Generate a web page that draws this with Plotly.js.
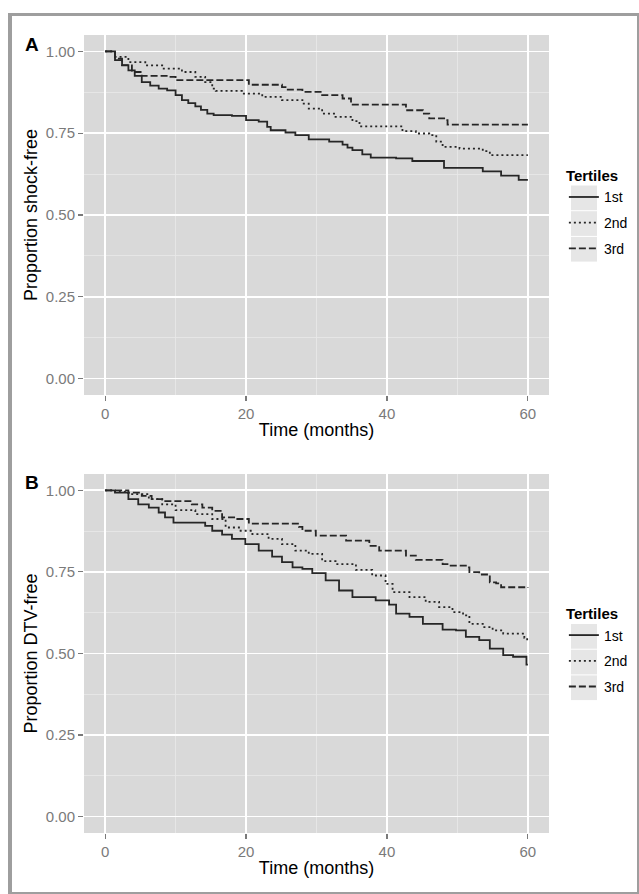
<!DOCTYPE html>
<html>
<head>
<meta charset="utf-8">
<script src="https://cdn.plot.ly/plotly-3.0.1.min.js"></script>
<style>
  html, body { margin: 0; padding: 0; background: #fff; }
  #wrap { position: relative; width: 639px; height: 894px; }
  #chart { position: absolute; left: 0; top: 0; width: 639px; height: 894px; }
  #frame { position: absolute; left: 8px; top: 13px; right: 0; bottom: 0;
           border-left: 4px solid #9e9e9e; border-top: 3px solid #9e9e9e;
           border-right: 2px solid #9e9e9e; border-bottom: 2px solid #9e9e9e;
           pointer-events: none; }
</style>
</head>
<body>
<div id="wrap">
  <div id="chart"></div>
  <div id="frame"></div>
</div>
<script>
// ---------- Data ----------
const tertileNames = ["1st", "2nd", "3rd"];
const panelLabels = ["A", "B"];
const yTitles = ["Proportion shock-free", "Proportion DTV-free"];
const xTitle = "Time (months)";
const legendTitle = "Tertiles";

// Panel A: shock-free survival
const timeA1 = [0, 1.4, 2.4, 3.3, 4.2, 5.2, 6.4, 7.6, 8.8, 10.0, 10.9, 11.8, 12.8, 13.6, 14.5, 15.4, 18.0, 20.0, 21.8, 23.0, 23.5, 25.6, 27.0, 28.9, 31.8, 33.7, 34.4, 35.1, 36.5, 37.7, 41.3, 43.6, 48.1, 53.6, 56.2, 58.7, 60];
const survA1 = [1, 0.973, 0.958, 0.942, 0.925, 0.906, 0.895, 0.886, 0.881, 0.866, 0.851, 0.842, 0.832, 0.821, 0.81, 0.805, 0.803, 0.79, 0.785, 0.769, 0.759, 0.752, 0.744, 0.731, 0.724, 0.715, 0.706, 0.698, 0.685, 0.675, 0.673, 0.665, 0.644, 0.633, 0.62, 0.607, 0.607];

const timeA2 = [0, 1.4, 3.3, 5.7, 8.1, 10.9, 12.8, 14.2, 15.2, 15.7, 19.4, 22.3, 25.1, 28.0, 28.9, 30.8, 32.7, 35.1, 36.1, 42.2, 44.1, 46.0, 47.0, 47.9, 50.3, 53.6, 54.6, 60];
const survA2 = [1, 0.983, 0.967, 0.957, 0.947, 0.937, 0.922, 0.906, 0.886, 0.879, 0.871, 0.861, 0.851, 0.84, 0.825, 0.81, 0.8, 0.787, 0.771, 0.756, 0.749, 0.744, 0.724, 0.708, 0.703, 0.695, 0.683, 0.683];

const timeA3 = [0, 1.4, 2.4, 3.8, 5.2, 9.0, 10.0, 20.4, 25.1, 25.6, 28.0, 30.8, 33.7, 34.9, 42.7, 45.1, 46.0, 48.4, 48.6, 60];
const survA3 = [1, 0.978, 0.957, 0.937, 0.925, 0.922, 0.912, 0.898, 0.891, 0.883, 0.876, 0.866, 0.856, 0.837, 0.82, 0.81, 0.795, 0.79, 0.776, 0.776];

// Panel B: DTV-free survival
const timeB1 = [0, 1.4, 3.3, 4.7, 6.2, 7.6, 8.5, 9.7, 12.8, 14.2, 15.2, 16.6, 18.0, 19.9, 21.8, 23.7, 25.1, 26.6, 28.0, 29.4, 31.3, 33.2, 35.1, 38.4, 40.3, 41.3, 43.2, 45.1, 47.9, 49.8, 51.2, 53.1, 54.6, 56.5, 57.9, 59.3, 59.8, 60];
const survB1 = [1, 0.993, 0.973, 0.957, 0.947, 0.932, 0.917, 0.901, 0.901, 0.891, 0.876, 0.864, 0.851, 0.835, 0.815, 0.797, 0.78, 0.764, 0.759, 0.746, 0.724, 0.693, 0.673, 0.663, 0.65, 0.622, 0.612, 0.591, 0.573, 0.571, 0.551, 0.541, 0.515, 0.495, 0.49, 0.49, 0.466, 0.466];

const timeB2 = [0, 1.4, 3.3, 6.2, 8.1, 10.0, 12.8, 15.2, 17.1, 19.0, 20.9, 23.2, 25.1, 27.0, 28.9, 30.8, 32.7, 35.6, 37.9, 39.8, 40.8, 43.2, 45.5, 47.4, 49.3, 50.8, 51.7, 53.6, 55.0, 56.5, 59.5, 59.9, 60];
const survB2 = [1, 0.996, 0.988, 0.973, 0.957, 0.939, 0.927, 0.912, 0.886, 0.876, 0.866, 0.851, 0.835, 0.815, 0.805, 0.783, 0.774, 0.756, 0.739, 0.713, 0.688, 0.673, 0.658, 0.642, 0.627, 0.617, 0.591, 0.581, 0.571, 0.561, 0.548, 0.537, 0.537];

const timeB3 = [0, 3.3, 5.2, 6.6, 8.1, 12.3, 13.8, 15.2, 16.6, 18.5, 20.4, 27.5, 28.0, 29.9, 34.2, 37.5, 38.9, 42.7, 44.1, 47.9, 48.9, 51.2, 51.7, 53.1, 54.6, 55.5, 56.2, 60];
const survB3 = [1, 0.993, 0.983, 0.973, 0.967, 0.957, 0.947, 0.937, 0.917, 0.912, 0.898, 0.888, 0.876, 0.861, 0.846, 0.83, 0.815, 0.8, 0.787, 0.774, 0.769, 0.764, 0.749, 0.742, 0.718, 0.715, 0.703, 0.701];

const yTickVals = [0, 0.25, 0.5, 0.75, 1];
const xTickVals = [0, 20, 40, 60];

// ---------- Styles ----------
const FONT = '"Liberation Sans", Arial, Helvetica, sans-serif';
const lineColor = '#262626';
const dashes = ['solid', '2px,3px', '7px,3px'];
const tickGray = '#7a7a7a';

const seriesA = [[timeA1, survA1], [timeA2, survA2], [timeA3, survA3]];
const seriesB = [[timeB1, survB1], [timeB2, survB2], [timeB3, survB3]];

const traces = [];
seriesA.forEach((s, i) => traces.push({
  x: s[0], y: s[1], type: 'scatter', mode: 'lines', name: tertileNames[i],
  line: { shape: 'hv', color: lineColor, width: 1.8, dash: dashes[i] },
  xaxis: 'x', yaxis: 'y', legend: 'legend', legendgroup: 'a' + i
}));
seriesB.forEach((s, i) => traces.push({
  x: s[0], y: s[1], type: 'scatter', mode: 'lines', name: tertileNames[i],
  line: { shape: 'hv', color: lineColor, width: 1.8, dash: dashes[i] },
  xaxis: 'x2', yaxis: 'y2', legend: 'legend2', legendgroup: 'b' + i
}));

function xAxis(anchor) {
  return {
    anchor: anchor, domain: [0, 1], range: [-3, 63],
    tickvals: xTickVals, ticks: 'outside', ticklen: 5, tickwidth: 1.2, tickcolor: tickGray,
    tickfont: { family: FONT, size: 15, color: tickGray },
    showgrid: true, gridcolor: '#ffffff', gridwidth: 1.6,
    minor: { tickvals: [10, 30, 50], showgrid: true, gridcolor: '#e9e9e9', gridwidth: 0.8, ticks: '' },
    zeroline: false, showline: false, fixedrange: true, automargin: false,
    title: { text: xTitle, font: { family: FONT, size: 18, color: '#000' }, standoff: 2 }
  };
}
function yAxis(anchor, domain, title) {
  return {
    anchor: anchor, domain: domain, range: [-0.05, 1.05],
    tickvals: yTickVals, tickformat: '.2f', ticks: 'outside', ticklen: 5, tickwidth: 1.2, tickcolor: tickGray,
    tickfont: { family: FONT, size: 15, color: tickGray },
    showgrid: true, gridcolor: '#ffffff', gridwidth: 1.6,
    minor: { tickvals: [0.125, 0.375, 0.625, 0.875], showgrid: true, gridcolor: '#e9e9e9', gridwidth: 0.8, ticks: '' },
    zeroline: false, showline: false, fixedrange: true, automargin: false,
    title: { text: title, font: { family: FONT, size: 18, color: '#000' }, standoff: 3 }
  };
}
function legendCfg(y) {
  return {
    x: 1.032, xanchor: 'left', y: y, yanchor: 'top',
    title: { text: '<b>' + legendTitle + '</b>', font: { family: FONT, size: 15, color: '#000' } },
    font: { family: FONT, size: 14, color: '#000' },
    bgcolor: 'rgba(0,0,0,0)', traceorder: 'grouped', tracegroupgap: 4.5, itemwidth: 30
  };
}

// light grey key boxes behind legend symbols (ggplot style)
function keyBoxes(topPx) {
  const out = [];
  for (let i = 0; i < 3; i++) {
    const y0 = topPx + i * 25.7, y1 = y0 + 24.7;
    out.push({ type: 'rect', xref: 'paper', yref: 'paper', layer: 'below',
      x0: (571 - 84) / 465, x1: (597 - 84) / 465,
      y0: 1 - (y1 - 35) / 798, y1: 1 - (y0 - 35) / 798,
      fillcolor: '#e6e6e6', line: { width: 0 } });
  }
  return out;
}

const layout = {
  width: 639, height: 894,
  margin: { l: 84, r: 90, t: 35, b: 61, autoexpand: false },
  paper_bgcolor: '#ffffff', plot_bgcolor: '#d9d9d9',
  font: { family: FONT },
  showlegend: true,
  xaxis: xAxis('y'),
  yaxis: yAxis('x', [0.5489, 1], yTitles[0]),
  xaxis2: xAxis('y2'),
  yaxis2: yAxis('x2', [0, 0.4499], yTitles[1]),
  legend: legendCfg(0.841),
  legend2: legendCfg(0.292),
  shapes: keyBoxes(185.5).concat(keyBoxes(624)),
  annotations: [
    { text: '<b>' + panelLabels[0] + '</b>', xref: 'paper', yref: 'paper', x: -0.132, y: 1.004,
      xanchor: 'left', yanchor: 'top', showarrow: false, font: { family: FONT, size: 19, color: '#000' } },
    { text: '<b>' + panelLabels[1] + '</b>', xref: 'paper', yref: 'paper', x: -0.132, y: 0.455,
      xanchor: 'left', yanchor: 'top', showarrow: false, font: { family: FONT, size: 19, color: '#000' } }
  ]
};

Plotly.newPlot('chart', traces, layout, { displayModeBar: false, staticPlot: true });
</script>
</body>
</html>
